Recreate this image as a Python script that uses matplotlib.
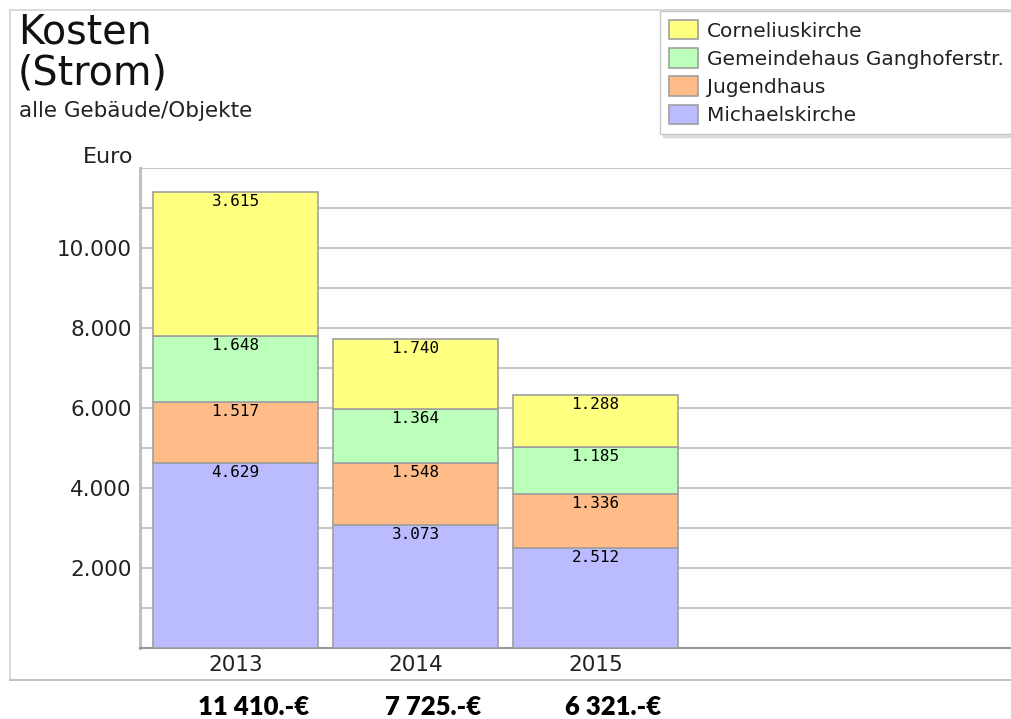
#!/usr/bin/env python3

import numpy as np
import matplotlib.pyplot as plt
from matplotlib.lines import Line2D
from matplotlib.ticker import FuncFormatter, MultipleLocator


years = ["2013", "2014", "2015"]
michaelskirche = [4629, 3073, 2512]
jugendhaus = [1517, 1548, 1336]
gemeindehaus = [1648, 1364, 1185]
corneliuskirche = [3615, 1740, 1288]
totals = ["11 410.-€", "7 725.-€", "6 321.-€"]

series_names = ["Michaelskirche", "Jugendhaus", "Gemeindehaus Ganghoferstr.", "Corneliuskirche"]
series_values = [michaelskirche, jugendhaus, gemeindehaus, corneliuskirche]
series_colors = ["#bbbbff", "#ffbb88", "#bbffbb", "#ffff80"]

W, H = 1012, 719


def fx(px):
    return px / W


def fy(py):
    return 1 - py / H


def dotted(v):
    return f"{int(v):,}".replace(",", ".")


fig = plt.figure(figsize=(W / 100, H / 100), dpi=100)

# outer frame of the chart widget
frame_color = "#d4d4d4"
fig.add_artist(Line2D([fx(10), fx(10)], [fy(10), fy(680)], color=frame_color, lw=1.2))
fig.add_artist(Line2D([fx(10), 1], [fy(10), fy(10)], color=frame_color, lw=1.2))
fig.add_artist(Line2D([fx(10), 1], [fy(680), fy(680)], color="#b8b8b8", lw=1.2))

ax = fig.add_axes([fx(140), fy(648), 1 - fx(140), fy(168) - fy(648)])

x = np.arange(len(years))
bottom = np.zeros(len(years))
handles = []
for name, vals, color in zip(series_names, series_values, series_colors):
    vals = np.asarray(vals, dtype=float)
    bars = ax.bar(x, vals, width=0.917, bottom=bottom, color=color,
                  edgecolor="#a0a0a0", linewidth=1.2, zorder=3, label=name)
    handles.append(bars)
    for xi, top, v in zip(x, bottom + vals, vals):
        ax.annotate(dotted(v), xy=(xi, top), xytext=(0, -7),
                    textcoords="offset points", ha="center", va="center",
                    fontsize=11.5, family="DejaVu Sans Mono", zorder=4)
    bottom += vals

# totals below the chart
for xi, label in zip(x, totals):
    ax.annotate(label, xy=(xi, 0), xytext=(13, -42.5), textcoords="offset points",
                ha="center", va="center", fontsize=18.5, fontweight="heavy",
                family="Lato", annotation_clip=False)

left = -95.5 / 180
ax.set_xlim(left, left + 872 / 180)
ax.set_ylim(0, 12000)

ax.yaxis.set_major_locator(MultipleLocator(2000))
ax.yaxis.set_minor_locator(MultipleLocator(1000))
ax.yaxis.set_major_formatter(FuncFormatter(lambda v, p: dotted(v) if 0 < v < 12000 else ""))
ax.grid(True, axis="y", which="both", color="#c8c8c8", linewidth=1.5, zorder=0)
ax.set_axisbelow(True)

ax.set_xticks(x)
ax.set_xticklabels(years)
ax.tick_params(axis="x", length=0, pad=5, labelsize=15.5, colors="#222222")
ax.tick_params(axis="y", which="both", length=0, pad=6, labelsize=15.5, colors="#222222")

for side in ["top", "right"]:
    ax.spines[side].set_visible(False)
ax.spines["left"].set_color("#c0c0c0")
ax.spines["left"].set_linewidth(2.2)
ax.spines["bottom"].set_color("#999999")
ax.spines["bottom"].set_linewidth(1.5)

# titles
fig.text(fx(18), fy(44), "Kosten", fontsize=28.5, va="baseline", ha="left", color="#111111")
fig.text(fx(18), fy(85), "(Strom)", fontsize=28.5, va="baseline", ha="left", color="#111111")
fig.text(fx(19), fy(117), "alle Gebäude/Objekte", fontsize=15.5, va="baseline", ha="left", color="#222222")
fig.text(fx(133), fy(163), "Euro", fontsize=16, va="baseline", ha="right", color="#222222")

leg = fig.legend(handles[::-1], series_names[::-1], loc="upper left",
                 bbox_to_anchor=(fx(660), fy(11)), fontsize=14.5,
                 frameon=True, fancybox=False, edgecolor="#c8c8c8",
                 handlelength=1.45, handleheight=1.1, labelspacing=0.38,
                 borderpad=0.45, handletextpad=0.45, borderaxespad=0,
                 shadow={"ox": 2, "oy": -2, "color": "#c0c0c0"})
for text in leg.get_texts():
    text.set_color("#222222")

fig.savefig("out.png", dpi=100)
